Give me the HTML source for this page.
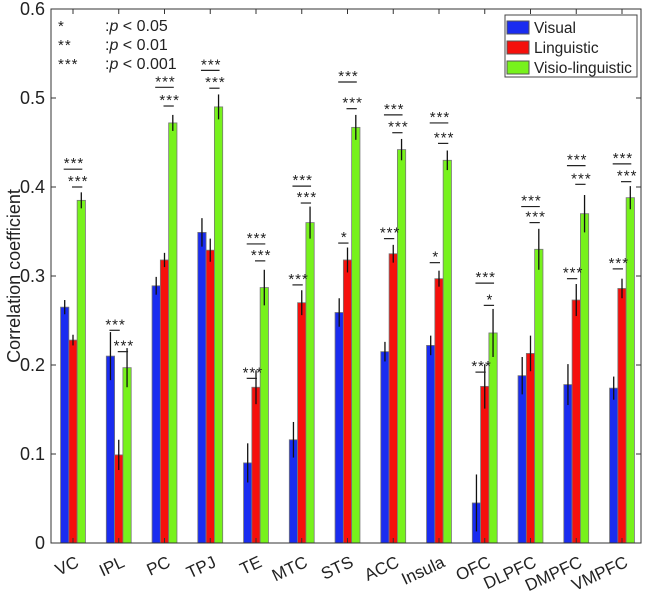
<!DOCTYPE html>
<html><head><meta charset="utf-8"><style>
body{margin:0;background:#fff;}
svg text{font-family:"Liberation Sans",Arial,sans-serif;fill:#222;}
</style></head><body>
<svg id="chart" width="645" height="591" xmlns="http://www.w3.org/2000/svg"></svg>
<script>
const categories=["VC","IPL","PC","TPJ","TE","MTC","STS","ACC","Insula","OFC","DLPFC","DMPFC","VMPFC"];
const visual=[0.265,0.21,0.289,0.349,0.09,0.116,0.259,0.215,0.222,0.045,0.188,0.178,0.174];
const linguistic=[0.228,0.099,0.318,0.329,0.175,0.27,0.318,0.325,0.297,0.176,0.213,0.273,0.286];
const visioLing=[0.385,0.197,0.472,0.49,0.287,0.36,0.467,0.442,0.43,0.236,0.33,0.37,0.388];
const visualErr=[0.008,0.027,0.01,0.016,0.022,0.02,0.016,0.011,0.011,0.032,0.021,0.023,0.013];
const lingErr=[0.006,0.017,0.008,0.013,0.019,0.014,0.014,0.01,0.009,0.025,0.02,0.018,0.011];
const vlErr=[0.009,0.022,0.009,0.014,0.02,0.018,0.014,0.012,0.011,0.027,0.023,0.021,0.013];
// significance annotations: [group index, pair(0=V-L,1=V-VL,2=L-VL), height, label]
const sigGroup=[0,0,1,1,2,2,3,3,4,4,4,5,5,5,6,6,6,7,7,7,8,8,8,9,9,9,10,10,11,11,11,12,12,12];
const sigPair=[1,2,0,2,1,2,1,2,1,2,0,1,2,0,1,2,0,1,2,0,1,2,0,1,2,0,1,2,1,2,0,1,2,0];
const sigY=[0.42,0.40,0.239,0.215,0.512,0.491,0.531,0.511,0.336,0.317,0.185,0.401,0.382,0.29,0.518,0.488,0.337,0.481,0.461,0.342,0.472,0.449,0.315,0.292,0.267,0.192,0.378,0.36,0.424,0.403,0.297,0.426,0.406,0.308];
const sigLabel=["***","***","***","***","***","***","***","***","***","***","***","***","***","***","***","***","*","***","***","***","***","***","*","***","*","***","***","***","***","***","***","***","***","***"];
const yTicks=[0,0.1,0.2,0.3,0.4,0.5,0.6];
const yTickLabels=["0","0.1","0.2","0.3","0.4","0.5","0.6"];

const NS="http://www.w3.org/2000/svg";
const svg=document.getElementById("chart");
const L=51,R=641,T=9,B=543,yMax=0.6;
const y=v=>B-(v/yMax)*(B-T);
const xc=i=>73+i*45.75;
const bw=8.3;
function mk(tag,attrs,parent){const e=document.createElementNS(NS,tag);for(const k in attrs)e.setAttribute(k,attrs[k]);(parent||svg).appendChild(e);return e;}

const series=[[visual,visualErr,"#1a2cf0","visual"],[linguistic,lingErr,"#f5100c","linguistic"],[visioLing,vlErr,"#77f21c","visio-linguistic"]];
categories.forEach((c,i)=>{
  const g=mk("g",{});
  
  
  series.forEach((s,k)=>{
    const cx=xc(i)+(k-1)*bw;
    const r=mk("rect",{x:cx-bw/2,y:y(s[0][i]),width:bw,height:B-y(s[0][i]),fill:s[2],stroke:"#777","stroke-width":0.8},g);
    
    
    const e=mk("line",{x1:cx,x2:cx,y1:y(s[0][i]+s[1][i]),y2:y(s[0][i]-s[1][i]),stroke:"#111","stroke-width":1.3},g);
    
    
  });
});
// significance
sigGroup.forEach((gi,j)=>{
  const p=sigPair[j];
  const a=[[-1,0],[-1,1],[0,1]][p];
  const x1=xc(gi)+a[0]*bw, x2=xc(gi)+a[1]*bw;
  const yy=y(sigY[j]);
  const ln=mk("line",{x1:x1-1,x2:x2+1,y1:yy,y2:yy,stroke:"#222","stroke-width":1.2});
  
  
  const t=mk("text",{x:(x1+x2)/2+1,y:yy-1,"text-anchor":"middle","font-size":15,"letter-spacing":"1"});
  t.textContent=sigLabel[j];
  
  
});
// axes box
const ax=mk("rect",{x:L,y:T,width:R-L,height:B-T,fill:"none",stroke:"#333","stroke-width":1});


yTicks.forEach((v,i)=>{
  mk("line",{x1:L,x2:L+5,y1:y(v),y2:y(v),stroke:"#333"});
  mk("line",{x1:R,x2:R-5,y1:y(v),y2:y(v),stroke:"#333"});
  const t=mk("text",{x:L-6,y:y(v)+6,"text-anchor":"end","font-size":18});
  t.textContent=yTickLabels[i];
  
  
});
categories.forEach((c,i)=>{
  mk("line",{x1:xc(i),x2:xc(i),y1:T,y2:T+5,stroke:"#333"});
  mk("line",{x1:xc(i),x2:xc(i),y1:B,y2:B-5,stroke:"#333"});
  const t=mk("text",{x:xc(i)+7,y:B+23,"text-anchor":"end","font-size":17,transform:`rotate(-25 ${xc(i)+7} ${B+23})`});
  t.textContent=c;
  
  
});
const yl=mk("text",{x:20,y:276,"text-anchor":"middle","font-size":18,transform:"rotate(-90 20 276)"});
yl.textContent="Correlation coefficient";


// p-value key
[["*","0.05"],["**","0.01"],["***","0.001"]].forEach((r,i)=>{
  const yy=31+i*19;
  const a=mk("text",{x:58,y:yy,"font-size":15,"letter-spacing":"1"});a.textContent=r[0];
  
  
  const b=mk("text",{x:105,y:yy,"font-size":16});
  b.innerHTML=':<tspan font-style="italic">p</tspan> &lt; '+r[1];
  
  
});
// legend
const lg=mk("g",{});


mk("rect",{x:505,y:15,width:132,height:62,fill:"#fff",stroke:"#444"},lg);
series.forEach((s,k)=>{
  const yy=21+k*20;
  mk("rect",{x:507,y:yy,width:22,height:13,fill:s[2],stroke:"#555"},lg);
  const t=mk("text",{x:534,y:yy+12,"font-size":15.5},lg);
  t.textContent=["Visual","Linguistic","Visio-linguistic"][k];
  
  
});
</script>
</body></html>
